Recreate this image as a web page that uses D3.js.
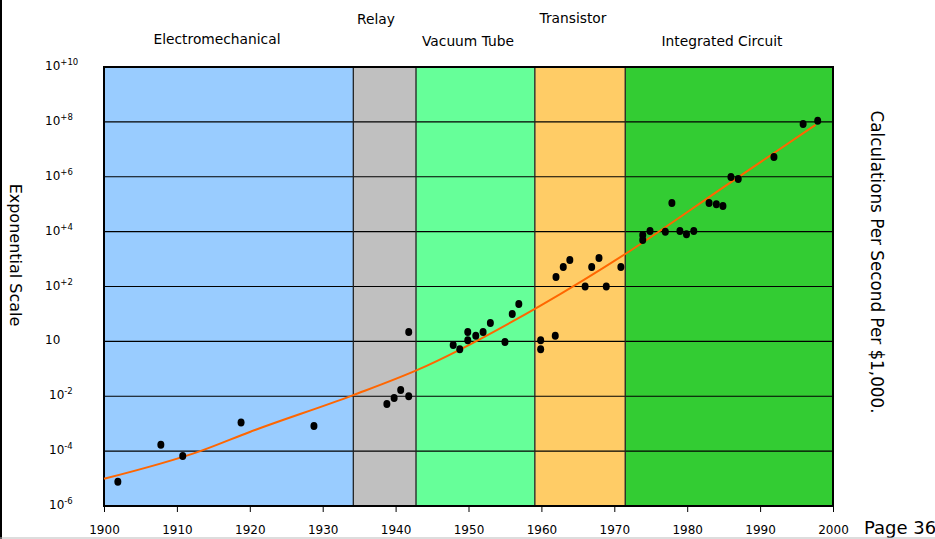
<!DOCTYPE html>
<html>
<head>
<meta charset="utf-8">
<script src="https://cdn.jsdelivr.net/npm/d3@7"></script>
<style>
body{margin:0;background:#fff;}
text{font-family:"DejaVu Sans",Verdana,sans-serif;fill:#000;}
</style>
</head>
<body>
<div id="canvas"></div>
<script>
var w = 935;
var h = 539;

// eras: name, start, end
var eraNames = ["Electromechanical","Relay","Vacuum Tube","Transistor","Integrated Circuit"];
var eraStart = [1900, 1934.2, 1942.8, 1959.1, 1971.5];
var eraEnd   = [1934.2, 1942.8, 1959.1, 1971.5, 2000];
var eraColors = ["#99ccff","#c0c0c0","#66ff99","#ffcc66","#33cc33"];

// machines: year and calculations per second per $1,000
var years = [1901.9,1907.8,1910.8,1918.8,1928.8,1938.8,1939.8,1940.7,1941.8,1941.8,
             1947.9,1948.8,1949.9,1949.9,1951,1952,1953,1955,1956,1956.9,
             1959.9,1959.9,1961.9,1962,1963,1963.9,1966,1966.9,1967.9,1968.9,1970.9,
             1973.9,1973.9,1974.9,1977,1977.9,1979,1979.9,1980.9,1983,1984,1984.9,
             1986,1987,1991.9,1995.9,1997.9];
var calcs = [7.6e-6,1.7e-4,6.6e-5,1.1e-3,8.3e-4,5.2e-3,8.7e-3,1.7e-2,1.0e-2,2.2,
             0.74,0.52,1.1,2.2,1.6,2.2,4.7,0.95,10,23,
             1.1,0.52,1.6,220,510,930,100,510,1100,100,510,
             7600,5000,10500,9800,110000,10500,8100,10500,110000,100000,85000,
             980000,830000,5200000,83000000,110000000];

// fitted trend
var trendYears = [1900,1913.2,1920,1934.2,1943,1960,1972.3,1985,1997.6];
var trendCalcs = [9.8e-6,1.0e-4,5.0e-4,1.1e-2,9.1e-2,21,2100,4.2e5,7.8e7];

var yTicks = [1e10,1e8,1e6,1e4,1e2,1,1e-2,1e-4,1e-6];
var yTickExp = ["+10","+8","+6","+4","+2","","-2","-4","-6"];
var xTicks = [1900,1910,1920,1930,1940,1950,1960,1970,1980,1990,2000];

var svg = d3.select("#canvas").append("svg")
				.attr("width",w)
				.attr("height",h);

var pLeft = 104, pRight = 833, pTop = 67, pBottom = 506;

var xScale = d3.scaleLinear()
				.domain([1900, 2000])
				.range([pLeft, pRight]);
var yScale = d3.scaleLog()
				.domain([1e-6, 1e10])
				.range([pBottom, pTop]);

// era backgrounds
svg.selectAll("rect.era")
	.data(eraNames)
	.join("rect")
	.attr("class","era")
	.attr("x", function(d,i){ return xScale(eraStart[i]); })
	.attr("y", pTop)
	.attr("width", function(d,i){ return xScale(eraEnd[i]) - xScale(eraStart[i]); })
	.attr("height", pBottom - pTop)
	.attr("fill", function(d,i){ return eraColors[i]; });

// horizontal grid
svg.selectAll("line.grid")
	.data(yTicks)
	.join("line")
	.attr("class","grid")
	.attr("x1", pLeft).attr("x2", pRight)
	.attr("y1", function(d){ return yScale(d); })
	.attr("y2", function(d){ return yScale(d); })
	.attr("stroke","#000")
	.attr("stroke-width",1.2);

// era boundaries
svg.selectAll("line.era")
	.data(eraStart.slice(1))
	.join("line")
	.attr("class","era")
	.attr("x1", function(d){ return xScale(d); })
	.attr("x2", function(d){ return xScale(d); })
	.attr("y1", pTop).attr("y2", pBottom)
	.attr("stroke","#222")
	.attr("stroke-width",1.3);

svg.append("rect")
	.attr("x", pLeft).attr("y", pTop)
	.attr("width", pRight-pLeft).attr("height", pBottom-pTop)
	.attr("fill","none")
	.attr("stroke","#000")
	.attr("stroke-width",2);

// x axis
var xAxis = d3.axisBottom(xScale)
				.tickValues(xTicks)
				.tickSize(6)
				.tickSizeOuter(0)
				.tickFormat(d3.format("d"));
var gx = svg.append("g")
	.attr("transform","translate(0,"+pBottom+")")
	.call(xAxis);
gx.select(".domain").remove();
gx.selectAll(".tick line").attr("stroke","#000");
gx.selectAll(".tick text")
	.attr("dy", 0)
	.attr("y", 28)
	.style("font-size","12px")
	.style("font-family","'DejaVu Sans',Verdana,sans-serif");

// y labels with superscripts
var ylab = svg.selectAll("text.ylab")
	.data(yTicks)
	.join("text")
	.attr("class","ylab")
	.attr("x", function(d,i){ return yTickExp[i].charAt(0) == "-" ? 49 : 45; })
	.attr("y", function(d){ return yScale(d) + 3; })
	.style("font-size","12px");
ylab.append("tspan").text("10");
ylab.append("tspan")
	.attr("dy", -5)
	.style("font-size","8.5px")
	.text(function(d,i){ return yTickExp[i]; });

// trend line
var line = d3.line()
	.x(function(d){ return xScale(d[0]); })
	.y(function(d){ return yScale(d[1]); })
	.curve(d3.curveMonotoneX);
svg.append("path")
	.datum(trendYears.map(function(d,i){ return [d, trendCalcs[i]]; }))
	.attr("d", line)
	.attr("fill","none")
	.attr("stroke","#ff6600")
	.attr("stroke-width",2);

// points
svg.selectAll("ellipse.pt")
	.data(years)
	.join("ellipse")
	.attr("class","pt")
	.attr("cx", function(d){ return xScale(d); })
	.attr("cy", function(d,i){ return yScale(calcs[i]); })
	.attr("rx", 3.5)
	.attr("ry", 4)
	.attr("fill","#000");

// era titles
var eraLabelX = [217, 376, 468, 573, 722];
var eraLabelY = [44, 24, 46, 23, 46];
svg.selectAll("text.eraname")
	.data(eraNames)
	.join("text")
	.attr("class","eraname")
	.attr("x", function(d,i){ return eraLabelX[i]; })
	.attr("y", function(d,i){ return eraLabelY[i]; })
	.attr("text-anchor","middle")
	.style("font-size","13.8px")
	.text(function(d){ return d; });

svg.append("text")
	.attr("transform","translate(10,255) rotate(90)")
	.attr("text-anchor","middle")
	.style("font-size","16px")
	.text("Exponential Scale");

svg.append("text")
	.attr("transform","translate(871,262) rotate(90)")
	.attr("text-anchor","middle")
	.style("font-size","16.8px")
	.text("Calculations Per Second Per $1,000.");

svg.append("text")
	.attr("x", 864).attr("y", 534)
	.style("font-size","18px")
	.text("Page 36");

// frame bits
svg.append("line").attr("x1",1).attr("x2",1).attr("y1",0).attr("y2",h)
	.attr("stroke","#000").attr("stroke-width",2);
svg.append("line").attr("x1",0).attr("x2",w).attr("y1",538).attr("y2",538)
	.attr("stroke","#bbb").attr("stroke-width",1);
</script>
</body>
</html>
